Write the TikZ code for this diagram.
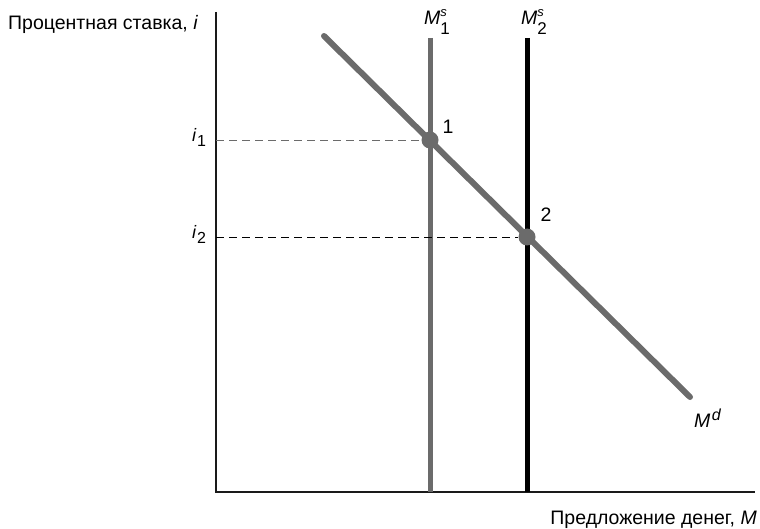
\documentclass[tikz,border=0pt]{standalone}
\usepackage{fontspec}
\setmainfont{Liberation Sans}
\usepackage{xcolor}
\definecolor{curvegray}{HTML}{6B6B6B}
\definecolor{axisink}{HTML}{1A1A1A}
\newcommand{\supplab}[1]{\textit{M}\rlap{\raisebox{8pt}{\fontsize{13}{13}\selectfont\textit{s}}}\raisebox{-10pt}{\fontsize{17}{17}\selectfont #1}}
\newcommand{\ratelab}[1]{\fontsize{18}{18}\selectfont\textit{i}\kern0.5pt\raisebox{-5pt}{\fontsize{16}{16}\selectfont #1}}
\newcommand{\demandlab}{\textit{M}\kern1.5pt\raisebox{7pt}{\fontsize{16}{16}\selectfont\textit{d}}}

\begin{document}
\begin{tikzpicture}[x=1pt, y=-1pt, every node/.style={font=\fontsize{19.5}{22}\selectfont, inner sep=0pt},
  axisline/.style={axisink, line width=1.4pt},
  supplyold/.style={curvegray, line width=5pt},
  supplynew/.style={black, line width=5pt},
  demandline/.style={curvegray, line width=6pt, line cap=round},
  guide/.style={line width=0.9pt, dash pattern=on 8pt off 5pt},
  dot/.style={circle, fill=curvegray, minimum size=17pt}]

  \useasboundingbox (0,0) rectangle (760,529);

  % axes
  \coordinate (o) at (216,492);
  \coordinate (ytop) at (216,12);
  \coordinate (xend) at (755,492);
  \draw[axisline] (ytop) -- (o) -- (xend);

  % money supply, before and after
  \coordinate (s1top) at (430,38);
  \coordinate (s1bot) at (430,492);
  \coordinate (s2top) at (527,38);
  \coordinate (s2bot) at (527,492);
  \draw[supplyold] (s1top) -- (s1bot);
  \draw[supplynew] (s2top) -- (s2bot);

  % money demand
  \coordinate (dtop) at (324,36);
  \coordinate (dend) at (690,397);
  \draw[demandline] (dtop) -- (dend);

  \node[dot] (p1) at (430,140) {};
  \node[dot] (p2) at (527,237) {};
  \coordinate (a1) at (216,140);
  \coordinate (a2) at (216,237);
  \draw[guide, curvegray] (a1) -- (p1);
  \draw[guide, black] (a2) -- (p2);

  \node (n1) at (448,127) {1};
  \node (n2) at (546,215) {2};
  \node[anchor=base west] (i1) at (192,142) {\ratelab{1}};
  \node[anchor=base west] (i2) at (192,239) {\ratelab{2}};
  \node[anchor=base west] (ms1) at (424,25) {\supplab{1}};
  \node[anchor=base west] (ms2) at (521,25) {\supplab{2}};
  \node[anchor=base west] (md) at (694,427) {\demandlab};

  \node[anchor=base west] (ylab) at (8,30) {Процентная ставка, \textit{i}};
  \node[anchor=base east] (xlab) at (757,524) {Предложение денег, \textit{M}};

\end{tikzpicture}
\end{document}
